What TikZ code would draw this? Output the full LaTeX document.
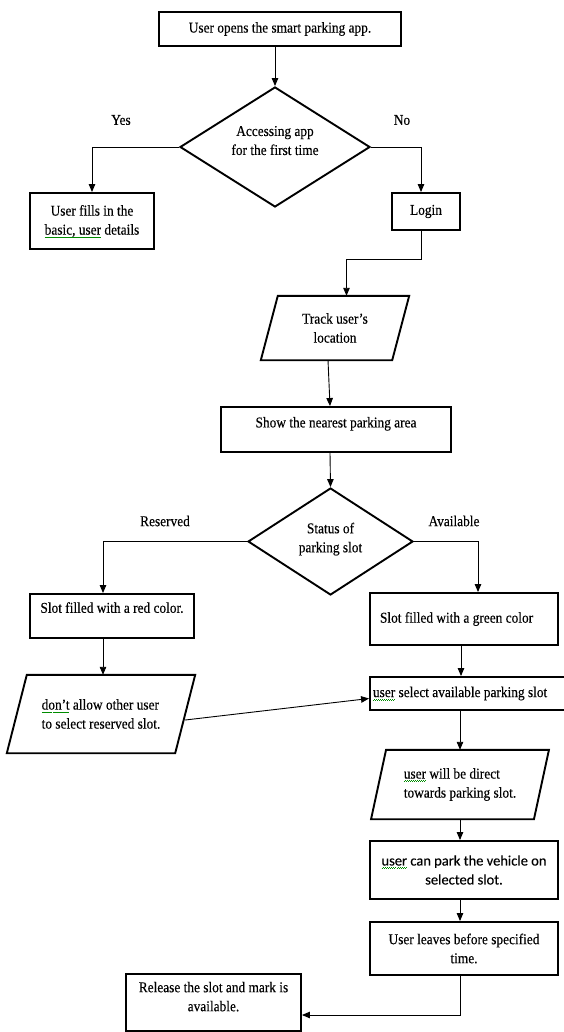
\documentclass[tikz,border=0pt]{standalone}
\usepackage{fontspec}
\setmainfont{Liberation Serif}[FakeStretch=0.89,FakeBold=0.25]
\newfontfamily\calib{Carlito}[FakeBold=0.25]
\usetikzlibrary{arrows.meta,shapes.geometric}
\newsavebox\spellbox
\newcommand\spellw[1]{\sbox\spellbox{#1}\rlap{\raisebox{-3.6pt}[0pt][0pt]{\color{green!55!black}\hbox to \wd\spellbox{\xleaders\hbox{\rule{1pt}{0.8pt}\rule[0.9pt]{1pt}{0.8pt}}\hfill}}}\usebox\spellbox}
\newcommand\paraoutline[2]{\draw[boxline] ([xshift=#2]#1.north west) -- ([xshift=#2]#1.north east) -- ([xshift=-#2]#1.south east) -- ([xshift=-#2]#1.south west) -- cycle;}
\begin{document}
\begin{tikzpicture}[x=1pt,y=-1pt,
  font=\fontsize{15}{19}\selectfont,
  boxline/.style={draw, line width=1.9pt, line join=miter},
  box/.style={boxline, inner sep=0pt, align=center},
  dia/.style={boxline, diamond, inner sep=0pt, align=center},
  para/.style={inner sep=0pt, align=left},
  flow/.style={line width=0.9pt, -{Triangle[length=8pt,width=6.5pt]}},
  lbl/.style={inner sep=0pt}]
\useasboundingbox (0,0) rectangle (563,1032);
\fill[white] (0,0) rectangle (563,1032);

% nodes
\node[box, minimum width=242, minimum height=34] (open) at (280,29) {User opens the smart parking app.};
\node[dia, aspect=1.58, minimum width=190, minimum height=120, text depth=13pt] (first) at (275,147) {Accessing app\\for the first time};
\node[lbl] (yes) at (121,120) {Yes};
\node[lbl] (no) at (402,120) {No};
\node[box, minimum width=124, minimum height=56] (fill) at (92,221) {User fills in the\\\spellw{basic, user} details};
\node[box, minimum width=68, minimum height=37] (login) at (426,211.5) {Login};
\node[para, align=center, minimum width=131, minimum height=64] (track) at (335,328) {Track user’s\\location};
\paraoutline{track}{8.5}
\node[box, minimum width=230, minimum height=45, text depth=14.6pt] (show) at (336,429.5) {Show the nearest parking area};
\node[dia, aspect=1.54, minimum width=165, minimum height=107, text depth=8pt] (status) at (330.5,541.5) {Status of\\parking slot};
\node[lbl] (res) at (165,521) {Reserved};
\node[lbl] (avail) at (454,521) {Available};
\node[box, minimum width=164, minimum height=44, text depth=17pt] (red) at (112,616) {Slot filled with a red color.};
\node[box, minimum width=188, minimum height=52] (green) at (464,619) {\makebox[168pt][l]{Slot filled with a green color}};
\node[para, minimum width=168, minimum height=78] (dont) at (101,714) {\spellw{don’t} allow other user\\to select reserved slot.};
\paraoutline{dont}{10}
\node[box, minimum width=205, minimum height=33] (select) at (472.5,693.5) {\makebox[199pt][l]{\spellw{user} select available parking slot}};
\node[para, minimum width=162.5, minimum height=69] (direct) at (460,784.5) {\spellw{user} will be direct\\towards parking slot.};
\paraoutline{direct}{7.5}
\node[box, minimum width=188, minimum height=58, font=\calib\fontsize{14.5}{19}\selectfont] (park) at (464,870) {\spellw{user} can park the vehicle on\\selected slot.};
\node[box, minimum width=188, minimum height=53] (leaves) at (464,948.5) {User leaves before specified\\time.};
\node[box, minimum width=175, minimum height=57, text depth=12pt] (release) at (213.5,1002.5) {Release the slot and mark is\\available.};

% connectors
\draw[flow] (open.south -| first.north) -- (first.north);
\draw[flow] (first.west) -| (fill.north);
\draw[flow] (first.east) -| ([xshift=-5]login.north);
\draw[flow] ([xshift=-5]login.south) -- ++(0,28) -| ([xshift=11.5]track.north);
\draw[flow] ([xshift=-7]track.south) -- ([xshift=-6]show.north);
\draw[flow] ([xshift=-6]show.south) -- (status.north);
\draw[flow] (status.west) -| ([xshift=-9]red.north);
\draw[flow] (status.east) -| ([xshift=14]green.north);
\draw[flow] ([xshift=-9]red.south) -- ([xshift=2]dont.north);
\draw[flow] ([yshift=-6]dont.east) -- ([yshift=-5]select.west);
\draw[flow] ([xshift=-3]green.south) -- ([xshift=-3]green.south |- select.north);
\draw[flow] (select.south -| direct.north) -- (direct.north);
\draw[flow] (direct.south) -- (direct.south |- park.north);
\draw[flow] ([xshift=-4]park.south) -- ([xshift=-4]leaves.north);
\draw[flow] ([xshift=-4]leaves.south) |- ([yshift=-12.5]release.east);
\end{tikzpicture}
\end{document}
